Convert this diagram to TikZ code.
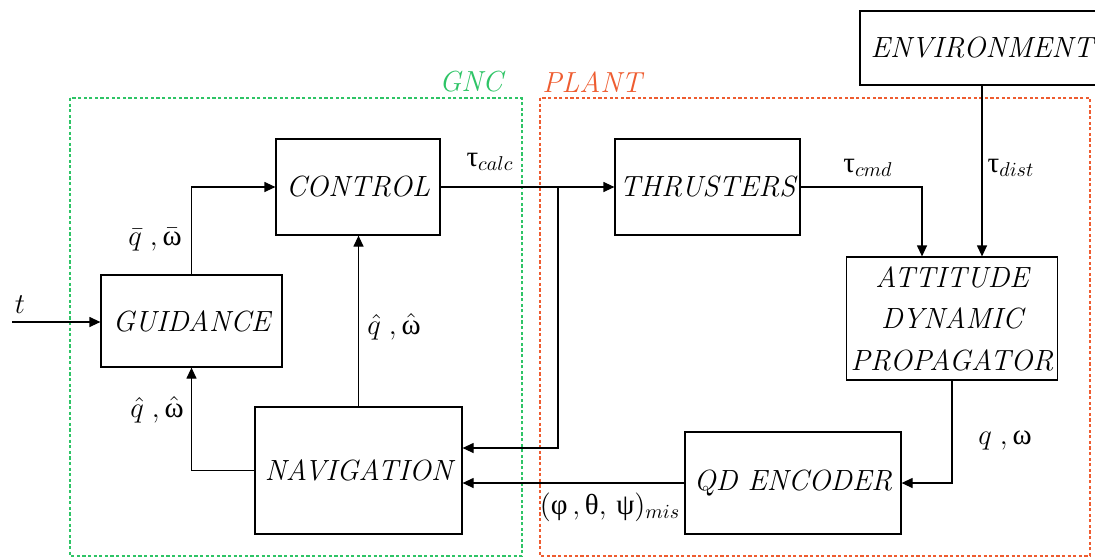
\documentclass[tikz,border=0pt]{standalone}
\usepackage{fontspec}
\newfontfamily\greekfont{Liberation Serif}
\usetikzlibrary{arrows.meta,positioning}
\usepackage{xcolor}
\definecolor{gncgreen}{RGB}{46,196,102}
\definecolor{plantorange}{RGB}{238,92,48}
\newcommand{\gk}[1]{\mbox{\greekfont #1}}
\tikzset{
  block/.style={
    draw,
    line width=0.6pt,
    align=center,
    inner sep=2pt,
    font=\fontsize{14.6}{20.7}\selectfont\itshape
  },
  sig/.style={-{Triangle[length=5.5pt,width=5pt]}, line width=0.6pt},
  siglabel/.style={font=\fontsize{14.5}{17}\selectfont, inner sep=1pt},
  gncframe/.style={draw=gncgreen, line width=0.9pt, dash pattern=on 1.6pt off 1.2pt},
  plantframe/.style={draw=plantorange, line width=0.9pt, dash pattern=on 1.6pt off 1.2pt},
  frametitle/.style={font=\fontsize{14.5}{17}\selectfont\itshape, inner sep=1pt},
}

\begin{document}
\begin{tikzpicture}[x=0.5pt, y=-0.5pt]
\useasboundingbox (0,0) rectangle (1095,558);

% Frames
\draw[gncframe] (70,98) rectangle (522,556);
\draw[plantframe] (540,98) rectangle (1090,556);
\node[frametitle, text=gncgreen] (gnctitle) at (471,82) {GNC};
\node[frametitle, text=plantorange] (planttitle) at (592,82) {PLANT};

% GNC blocks
\node[block, minimum width=82pt, minimum height=48pt] (control) at (358,187) {CONTROL};
\node[block, minimum width=90.5pt, minimum height=46pt] (guidance) at (191.5,321) {GUIDANCE};
\node[block, minimum width=103.5pt, minimum height=63.5pt] (navigation) at (358.5,470.5) {NAVIGATION};

% Plant blocks
\node[block, minimum width=92.5pt, minimum height=48pt] (thrusters) at (707.5,187) {THRUSTERS};
\node[block, minimum width=122pt, minimum height=37pt] (environment) at (982,48) {ENVIRONMENT};
\node[block, minimum width=105pt, minimum height=61.5pt] (attitude) at (952,318.5) {ATTITUDE\\DYNAMIC\\PROPAGATOR};
\node[block, minimum width=108pt, minimum height=51pt] (qdenc) at (793,483) {QD ENCODER};

% Signals inside GNC
\coordinate (tin) at (12,322);
\draw[sig] (tin) -- (tin -| guidance.west);
\draw[sig] (guidance.north) |- (control.west);
\draw[sig] (navigation.west) -| (guidance.south);
\draw[sig] (navigation.north) -- (navigation.north |- control.south);

% Signals between GNC and plant
\coordinate (split) at (558,187);
\draw[sig] (control.east) -- (thrusters.west);
\draw[sig] (split) |- ([yshift=11.25pt]navigation.east);
\draw[sig] (qdenc.west) -- (qdenc.west -| navigation.east);

% Signals inside plant
\draw[sig] (thrusters.east) -| ([xshift=-15pt]attitude.north);
\draw[sig] (environment.south) -- (environment.south |- attitude.north);
\draw[sig] (attitude.south) |- (qdenc.east);

% Signal labels
\node[siglabel] (tlabel) at (20,305) {$t$};
\node[siglabel] (qbar) at (155,240) {$\bar{q}\;,\bar{\gk{ω}}$};
\node[siglabel] (qhatg) at (157,410) {$\hat{q}\;,\hat{\gk{ω}}$};
\node[siglabel] (qhatc) at (394,327) {$\hat{q}\;,\hat{\gk{ω}}$};
\node[siglabel] (taucalc) at (490,162) {$\gk{τ}_{calc}$};
\node[siglabel] (taucmd) at (868,168) {$\gk{τ}_{cmd}$};
\node[siglabel] (taudist) at (1011,168) {$\gk{τ}_{dist}$};
\node[siglabel] (qomega) at (1005,440) {$q\;,\gk{ω}$};
\node[siglabel] (euler) at (610,507) {$(\gk{φ}\,,\gk{θ},\,\gk{ψ})_{mis}$};

\end{tikzpicture}
\end{document}
